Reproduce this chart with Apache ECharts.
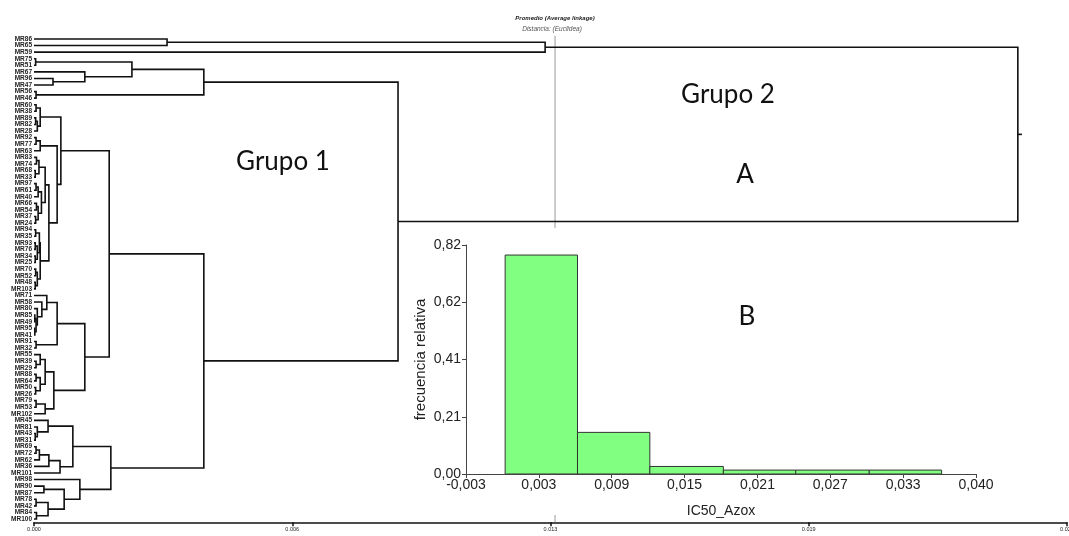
<!DOCTYPE html>
<html>
<head>
<meta charset="utf-8">
<script src="https://cdn.jsdelivr.net/npm/echarts@6/dist/echarts.min.js"></script>
<style>
  html, body { margin: 0; padding: 0; background: #fff; }
  #chart { width: 1069px; height: 536px; }
</style>
</head>
<body>
<div id="chart"></div>
<script>
// hojas del dendrograma, de arriba hacia abajo
const leaves = [
  'MR86', 'MR65', 'MR59', 'MR75', 'MR51', 'MR67', 'MR96', 'MR47', 'MR56', 'MR46',
  'MR60', 'MR38', 'MR89', 'MR82', 'MR28', 'MR92', 'MR77', 'MR63', 'MR83', 'MR74',
  'MR68', 'MR33', 'MR97', 'MR61', 'MR40', 'MR66', 'MR54', 'MR37', 'MR24', 'MR94',
  'MR35', 'MR93', 'MR76', 'MR34', 'MR25', 'MR70', 'MR52', 'MR48', 'MR103', 'MR71',
  'MR58', 'MR80', 'MR85', 'MR49', 'MR95', 'MR41', 'MR91', 'MR32', 'MR55', 'MR39',
  'MR29', 'MR88', 'MR64', 'MR50', 'MR26', 'MR79', 'MR53', 'MR102', 'MR45', 'MR81',
  'MR43', 'MR31', 'MR69', 'MR72', 'MR62', 'MR36', 'MR101', 'MR98', 'MR90', 'MR87',
  'MR78', 'MR42', 'MR84', 'MR100'
]

// uniones: [hijo superior, hijo inferior, distancia]; 'mN' = union N
const merges = [
  ['MR86', 'MR65', 0.00322], ['m0', 'MR59', 0.01237],
  ['MR75', 'MR51', 0.00004], ['MR96', 'MR47', 0.00046], ['MR67', 'm3', 0.00123],
  ['m2', 'm4', 0.00237], ['MR56', 'MR46', 0.00005], ['m5', 'm6', 0.00411],
  ['MR60', 'MR38', 0.00005], ['MR89', 'MR82', 0.00004], ['m9', 'MR28', 0.00008],
  ['m8', 'm10', 0.00015], ['MR92', 'MR77', 0.00005], ['m12', 'MR63', 0.00015],
  ['MR83', 'MR74', 0.00006], ['MR68', 'MR33', 0.00003], ['m14', 'm15', 0.00012],
  ['MR97', 'MR61', 0.00005], ['m17', 'MR40', 0.0001], ['MR66', 'MR54', 0.00006],
  ['MR37', 'MR24', 0.00004], ['m19', 'm20', 0.0001], ['m18', 'm21', 0.00018],
  ['m16', 'm22', 0.00027],
  ['MR94', 'MR35', 0.00004], ['MR93', 'MR76', 0.00003], ['MR34', 'MR25', 0.00003],
  ['m25', 'm26', 0.00008], ['m24', 'm27', 0.00013], ['MR70', 'MR52', 0.00004],
  ['MR48', 'MR103', 0.00003], ['m29', 'm30', 0.00008], ['m28', 'm31', 0.00015],
  ['m23', 'm32', 0.00036], ['m13', 'm33', 0.00056], ['m11', 'm34', 0.00065],
  ['MR85', 'MR49', 0.00002], ['MR95', 'MR41', 0.00002], ['m36', 'm37', 0.00005],
  ['MR80', 'm38', 0.00008], ['MR58', 'm39', 0.00019], ['MR71', 'm40', 0.00031],
  ['MR91', 'MR32', 0.00005], ['m41', 'm42', 0.00056],
  ['MR39', 'MR29', 0.00005], ['MR55', 'm44', 0.00015], ['MR88', 'MR64', 0.00005],
  ['MR50', 'MR26', 0.00004], ['m46', 'm47', 0.00015], ['m45', 'm48', 0.00027],
  ['MR79', 'MR53', 0.00005], ['m50', 'MR102', 0.00027], ['m49', 'm51', 0.00048],
  ['m43', 'm52', 0.00123], ['m35', 'm53', 0.00182],
  ['MR43', 'MR31', 0.00003], ['MR81', 'm55', 0.00008], ['MR45', 'm56', 0.00034],
  ['MR69', 'MR72', 0.00005], ['m58', 'MR62', 0.00013], ['m59', 'MR36', 0.00036],
  ['m60', 'MR101', 0.00063], ['m57', 'm61', 0.00094],
  ['MR90', 'MR87', 0.00024], ['MR78', 'MR42', 0.00005], ['MR84', 'MR100', 0.00006],
  ['m64', 'm65', 0.00034], ['m63', 'm66', 0.00073], ['MR98', 'm67', 0.00111],
  ['m62', 'm68', 0.00186], ['m54', 'm69', 0.00411], ['m7', 'm70', 0.00881],
  ['m1', 'm71', 0.02381]
]
const cutHeight = 0.01261

// histograma IC50_Azox
const binStart = [0.0003, 0.0064, 0.0125, 0.0187, 0.0248, 0.031]
const binEnd = [0.0064, 0.0125, 0.0187, 0.0248, 0.031, 0.0371]
const relFreq = [0.784, 0.149, 0.027, 0.014, 0.014, 0.014]
const freqTickLabels = ['0,00', '0,21', '0,41', '0,62', '0,82']
const ic50TickLabels = ['-0,003', '0,003', '0,009', '0,015', '0,021', '0,027', '0,033', '0,040']

// posiciones de los nodos (y = indice de hoja, h = distancia)
const pos = {}
leaves.forEach((n, i) => { pos[n] = { y: i, h: 0 } })
const links = merges.map((m, i) => {
  const a = pos[m[0]], b = pos[m[1]]
  pos['m' + i] = { y: (a.y + b.y) / 2, h: m[2] }
  return [a.h, a.y, m[2], b.h, b.y]
})
const root = pos['m' + (merges.length - 1)]

const histMin = -0.003, histMax = 0.04
const histStep = (histMax - histMin) / (ic50TickLabels.length - 1)
const histTicks = ic50TickLabels.map((_, i) => histMin + i * histStep)
const freqMax = 0.82, freqStep = freqMax / (freqTickLabels.length - 1)
const bins = binStart.map((s, i) => [s, binEnd[i], relFreq[i]])

const chart = echarts.init(document.getElementById('chart'))
const option = {
  animation: false,
  backgroundColor: '#fff',
  grid: [
    { left: 34, right: 2, top: 35.7, height: 486.6, outerBoundsMode: 'none' },
    { left: 466, top: 245, width: 510, height: 229, outerBoundsMode: 'none' },
  ],
  xAxis: [
    {
      gridIndex: 0, type: 'value', min: 0, max: 0.025, interval: 0.00625, position: 'bottom',
      axisLine: { onZero: false, lineStyle: { color: '#111', width: 1.5 } },
      axisTick: { length: 4, lineStyle: { color: '#111', width: 1.5 } },
      axisLabel: { fontSize: 5.5, color: '#222', margin: 4, formatter: (v) => v.toFixed(3) },
      splitLine: { show: false },
    },
    {
      gridIndex: 1, type: 'value', min: histMin, max: histMax, z: 6,
      name: 'IC50_Azox', nameLocation: 'middle', nameGap: 30,
      nameTextStyle: { fontSize: 14, color: '#222', fontFamily: 'Liberation Sans' },
      axisLine: { onZero: false, lineStyle: { color: '#444', width: 1 } },
      axisTick: { length: 4, customValues: histTicks, lineStyle: { color: '#444' } },
      axisLabel: {
        customValues: histTicks, fontSize: 14, color: '#222', fontFamily: 'Liberation Sans', margin: 4,
        formatter: (v) => ic50TickLabels[Math.round((v - histMin) / histStep)],
      },
      splitLine: { show: false },
    },
  ],
  yAxis: [
    {
      gridIndex: 0, type: 'category', data: leaves, inverse: true,
      axisLine: { show: false }, axisTick: { show: false },
      axisLabel: { fontSize: 6.5, fontWeight: 'bold', color: '#222', margin: 2, interval: 0, fontFamily: 'Liberation Sans' },
    },
    { gridIndex: 0, type: 'value', min: -0.5, max: leaves.length - 0.5, inverse: true, show: false },
    {
      gridIndex: 1, type: 'value', min: 0, max: freqMax, interval: freqStep, z: 6,
      name: 'frecuencia relativa', nameLocation: 'middle', nameGap: 38,
      nameTextStyle: { fontSize: 15, color: '#222', fontFamily: 'Liberation Sans' },
      axisLine: { show: true, onZero: false, lineStyle: { color: '#444', width: 1 } },
      axisTick: { show: true, length: 4, lineStyle: { color: '#444' } },
      axisLabel: {
        fontSize: 14, color: '#222', fontFamily: 'Liberation Sans', margin: 5,
        formatter: (v) => freqTickLabels[Math.round(v / freqStep)],
      },
      splitLine: { show: false },
    },
  ],
  graphic: [
    { type: 'rect', z: 3, shape: { x: 410, y: 228, width: 590, height: 287 }, style: { fill: '#fff' } },
    { type: 'text', z: 4, style: { x: 555, y: 18, text: 'Promedio (Average linkage)', textAlign: 'center', textVerticalAlign: 'middle', font: 'italic bold 6px "Liberation Sans"', fill: '#222' } },
    { type: 'text', z: 4, style: { x: 552, y: 29, text: 'Distancia: (Euclidea)', textAlign: 'center', textVerticalAlign: 'middle', font: 'italic 6.5px "Liberation Sans"', fill: '#555' } },
    { type: 'text', z: 4, style: { x: 728, y: 95, text: 'Grupo 2', textAlign: 'center', textVerticalAlign: 'middle', font: '26px Lato', fill: '#111' } },
    { type: 'text', z: 4, style: { x: 283, y: 162, text: 'Grupo 1', textAlign: 'center', textVerticalAlign: 'middle', font: '26px Lato', fill: '#111' } },
    { type: 'text', z: 4, style: { x: 745, y: 175, text: 'A', textAlign: 'center', textVerticalAlign: 'middle', font: '26px Lato', fill: '#111' } },
    { type: 'text', z: 7, style: { x: 747, y: 317, text: 'B', textAlign: 'center', textVerticalAlign: 'middle', font: '26px Lato', fill: '#111' } },
  ],
  series: [
    {
      // linea de corte
      type: 'line', xAxisIndex: 0, yAxisIndex: 1, z: 1, symbol: 'none', silent: true,
      lineStyle: { color: '#999', width: 1 },
      data: [[cutHeight, -0.5], [cutHeight, leaves.length - 0.5]],
    },
    {
      type: 'custom', xAxisIndex: 0, yAxisIndex: 1, z: 2,
      encode: { x: [0, 2, 3], y: [1, 4] },
      data: links,
      renderItem(params, api) {
        const p1 = api.coord([api.value(0), api.value(1)])
        const p2 = api.coord([api.value(2), api.value(1)])
        const p3 = api.coord([api.value(2), api.value(4)])
        const p4 = api.coord([api.value(3), api.value(4)])
        return {
          type: 'polyline',
          shape: { points: [p1, p2, p3, p4] },
          style: { stroke: '#111', lineWidth: 1.6, fill: null },
        }
      },
    },
    {
      type: 'line', xAxisIndex: 0, yAxisIndex: 1, z: 2, symbol: 'none',
      lineStyle: { color: '#111', width: 1.6 },
      data: [[root.h, root.y], [root.h + 0.0001, root.y]],
    },
    {
      type: 'custom', xAxisIndex: 1, yAxisIndex: 2, z: 5,
      encode: { x: [0, 1], y: 2 },
      data: bins,
      renderItem(params, api) {
        const p0 = api.coord([api.value(0), api.value(2)])
        const p1 = api.coord([api.value(1), 0])
        return {
          type: 'rect',
          shape: { x: p0[0], y: p0[1], width: p1[0] - p0[0], height: p1[1] - p0[1] },
          style: { fill: '#80ff80', stroke: '#333', lineWidth: 1 },
        }
      },
    },
  ],
}
chart.setOption(option)
</script>
</body>
</html>
